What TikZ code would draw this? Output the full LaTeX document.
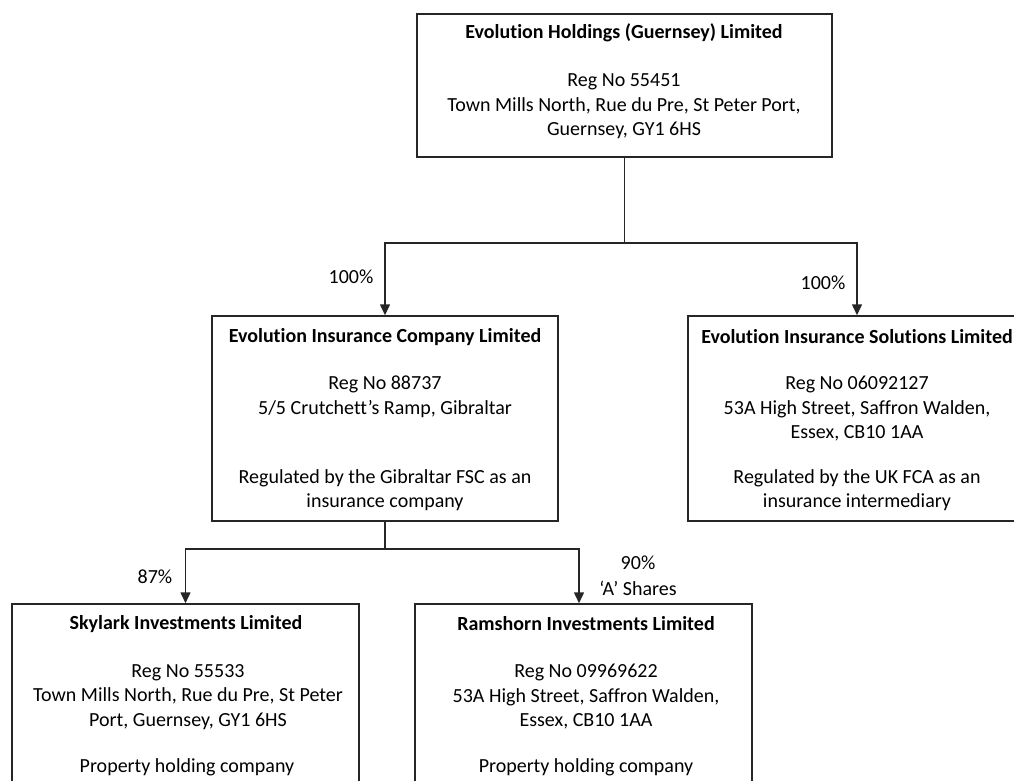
\documentclass[tikz,border=0pt]{standalone}
\usepackage{fontspec}
\setmainfont[Ligatures=NoCommon]{Carlito}
\usetikzlibrary{arrows.meta,calc}
\tikzset{
  box/.style={draw=black!85, line width=1.5pt, rectangle, inner sep=0pt},
  txt/.style={align=center, inner sep=0pt, font=\fontsize{20}{24.5}\selectfont},
  ttl/.style={align=center, inner sep=0pt, font=\fontsize{20}{24.5}\selectfont\bfseries},
  conn/.style={draw=black!85, line width=1.5pt},
  arr/.style={conn, -{Triangle[width=10pt,length=11pt]}},
}
\begin{document}
\begin{tikzpicture}[x=1pt,y=1pt]
\useasboundingbox (0,0) rectangle (1014,-781);
\clip (0,0) rectangle (1014,-781);
% boxes
\node[box, minimum width=415, minimum height=143] (top) at (624.5,-85.5) {};
\node[box, minimum width=346, minimum height=205] (midL) at (385,-418.5) {};
\node[box, minimum width=338, minimum height=205] (midR) at (857,-418.5) {};
\node[box, minimum width=347, minimum height=230] (botL) at (185.5,-719) {};
\node[box, minimum width=337, minimum height=230] (botR) at (583.5,-719) {};
% texts
\node[ttl] (topT) at (624,-33) {Evolution Holdings (Guernsey) Limited};
\node[txt] (topA) at (624,-106.5) {Reg No 55451\\Town Mills North, Rue du Pre, St Peter Port,\\Guernsey, GY1 6HS};
\node[ttl] (midLT) at (385,-337) {Evolution Insurance Company Limited};
\node[txt] (midLA) at (385,-397) {Reg No 88737\\5/5 Crutchett’s Ramp, Gibraltar};
\node[txt] (midLR) at (385,-490) {Regulated by the Gibraltar FSC as an\\insurance company};
\node[ttl] (midRT) at (857,-337) {Evolution Insurance Solutions Limited};
\node[txt] (midRA) at (857,-409) {Reg No 06092127\\53A High Street, Saffron Walden,\\Essex, CB10 1AA};
\node[txt] (midRR) at (857,-490) {Regulated by the UK FCA as an\\insurance intermediary};
\node[ttl] (botLT) at (186,-624) {Skylark Investments Limited};
\node[txt] (botLA) at (188,-697) {Reg No 55533\\Town Mills North, Rue du Pre, St Peter\\Port, Guernsey, GY1 6HS};
\node[txt] (botLR) at (187,-767) {Property holding company};
\node[ttl] (botRT) at (586,-624) {Ramshorn Investments Limited};
\node[txt] (botRA) at (586,-697) {Reg No 09969622\\53A High Street, Saffron Walden,\\Essex, CB10 1AA};
\node[txt] (botRR) at (586,-767) {Property holding company};
% connectors
\coordinate (j1) at ($(top.south)+(0,-85)$);
\draw[conn] (top.south) -- (j1);
\draw[arr] (j1) -| (midL.north);
\draw[arr] (j1) -| (midR.north);
\coordinate (j2) at ($(midL.south)+(0,-27)$);
\draw[conn] (midL.south) -- (j2);
\draw[arr] (j2) -| (botL.north);
\draw[arr] (j2) -| ([xshift=-4.5pt]botR.north);
% labels
\node[txt] (l1) at (351,-277) {100\%};
\node[txt] (l2) at (823,-283) {100\%};
\node[txt] (l3) at (155,-577) {87\%};
\node[txt, font=\fontsize{20}{26}\selectfont] (l4) at (638,-576) {90\%\\‘A’ Shares};
\end{tikzpicture}
\end{document}
